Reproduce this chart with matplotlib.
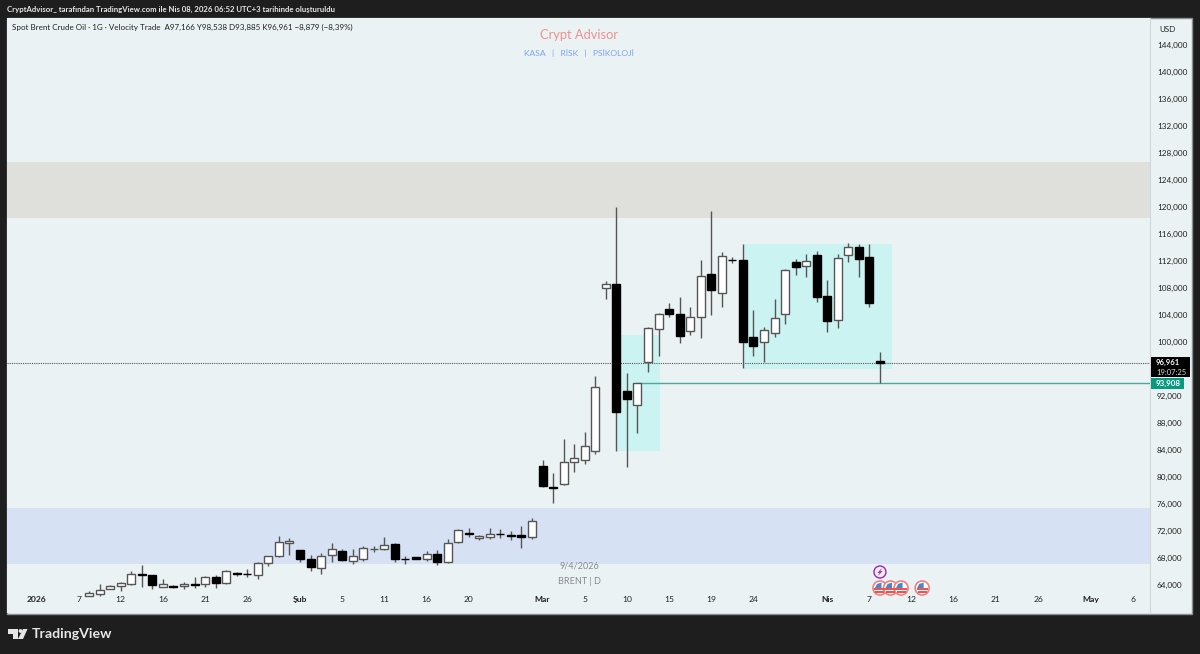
import numpy as np
import matplotlib
matplotlib.use('Agg')
import matplotlib.pyplot as plt
from matplotlib.patches import Rectangle, Circle, Polygon
from matplotlib.transforms import Affine2D

plt.rcParams['font.family'] = ['Lato', 'DejaVu Sans']

# prices in thousands USD, bar index 1 is not visible, bar 0 shows only a wick
opens = [np.nan, np.nan, 62.37, 62.72, 63.41, 63.90, 64.20, 65.58, 65.43, 63.75, 63.80, 63.80, 64.20, 64.10, 65.14, 64.25,
         65.83, 65.63, 65.53, 67.21, 68.25, 70.17, 69.14, 67.85, 66.57, 68.39, 69.04, 67.56, 67.90, 69.33, 69.33, 70.02,
         67.88, 68.10, 67.90, 68.64, 67.36, 70.42, 71.75, 70.91, 71.16, 71.53, 71.41, 71.36, 71.06, 81.68, 78.57, 79.01,
         82.22, 82.52, 83.90, 107.95, 108.59, 92.69, 90.62, 97.08, 101.97, 104.94, 104.15, 101.68, 103.75, 110.02, 107.21,
         112.17, 112.20, 100.74, 100.05, 101.28, 104.10, 111.90, 111.21, 112.84, 106.76, 103.26, 112.84, 114.02, 112.64, 97.166]
highs = [62.55, np.nan, 63.11, 64.10, 63.95, 64.44, 66.07, 66.96, 65.50, 64.89, 63.95, 64.40, 65.14, 65.30, 65.43, 66.22,
         65.98, 66.37, 67.46, 68.30, 71.31, 70.91, 69.20, 68.39, 68.79, 70.27, 69.33, 69.28, 69.83, 69.83, 71.06, 70.22,
         68.30, 68.15, 68.99, 69.18, 70.81, 72.25, 72.44, 71.40, 72.44, 72.25, 72.00, 72.74, 73.88, 82.52, 80.64, 85.58,
         84.84, 86.62, 94.91, 108.99, 119.95, 95.36, 93.97, 102.17, 104.25, 105.73, 106.67, 105.23, 112.10, 119.40, 113.33,
         112.64, 114.52, 104.74, 102.17, 106.32, 110.76, 112.24, 113.03, 113.48, 109.18, 113.03, 114.62, 114.52, 114.52, 98.538]
lows = [62.45, np.nan, 62.37, 62.32, 63.35, 63.06, 64.05, 63.70, 63.41, 63.65, 63.60, 63.46, 63.56, 63.70, 63.60, 64.20,
        65.38, 65.23, 64.84, 66.81, 68.20, 68.44, 67.36, 66.02, 65.68, 67.46, 67.60, 67.06, 67.56, 68.84, 69.23, 67.36,
        67.11, 67.85, 67.60, 67.01, 67.30, 70.27, 71.06, 70.67, 70.77, 70.91, 70.67, 69.48, 70.77, 78.52, 76.20, 78.81,
        80.69, 81.93, 83.46, 106.42, 83.90, 81.43, 86.57, 95.55, 97.97, 103.75, 99.80, 101.09, 100.59, 104.00, 105.23,
        111.65, 96.20, 97.92, 96.99, 100.69, 102.62, 109.92, 109.63, 105.92, 101.53, 102.02, 111.90, 109.63, 105.13, 93.885]
closes = [np.nan, np.nan, 62.77, 63.21, 63.90, 64.35, 65.58, 65.55, 63.95, 64.10, 63.65, 64.10, 64.05, 65.23, 64.30, 66.02,
          65.68, 65.58, 67.31, 68.25, 70.32, 70.47, 67.90, 66.72, 68.25, 69.33, 67.65, 68.25, 69.43, 69.35, 69.93, 67.80,
          67.85, 67.90, 68.64, 67.46, 70.22, 72.10, 71.55, 71.31, 71.51, 71.50, 71.21, 71.16, 73.53, 78.62, 78.37, 82.27,
          82.81, 84.64, 93.28, 108.59, 89.68, 91.60, 93.88, 102.02, 104.15, 104.10, 100.89, 103.65, 109.73, 107.70, 112.74,
          112.15, 100.05, 99.46, 101.73, 103.60, 110.62, 111.16, 112.05, 106.71, 103.06, 112.39, 114.12, 112.24, 105.78, 96.961]

# 96,000 sits under the last price label so it is left out
price_ticks = [64, 68, 72, 76, 80, 84, 88, 92, 100, 104, 108, 112, 116, 120, 124, 128, 132, 136, 140, 144]
time_pos = [-3, 1, 5, 9, 13, 17, 22, 26, 30, 34, 38, 45, 49, 53, 57, 61, 65, 72, 76, 80, 84, 88, 92, 97, 101]
time_labels = ['2026', '7', '12', '16', '21', '26', 'Şub', '5', '11', '16', '20', 'Mar', '5', '10', '15', '19', '24',
               'Nis', '7', '12', '16', '21', '26', 'May', '6']
bold_labels = ['2026', 'Şub', 'Mar', 'Nis', 'May']

# zones: first bar, last bar, low, high
gray_zone = (118.37, 126.67)
blue_zone = (67.11, 75.45)
box1 = (52, 56, 83.90, 100.98)
box2 = (64, 78, 96.05, 114.52)
last_price = 96.961
level_price = 93.908
level_start = 54
event_bars = [77, 78, 79, 81]

fig = plt.figure(figsize=(12, 6.54), dpi=100, facecolor='#1e1e1e')
px = Affine2D().scale(1, -1).translate(0, 654)

fig.add_artist(Rectangle((7, 18), 1185, 596, transform=px, fc='#ebf2f4', ec='#8a8f92', lw=1, zorder=-1))

ax = fig.add_axes([7/1200, 1-613/654, 1143/1200, 595/654], facecolor='#ebf2f4')
ax.set_xlim((7-68)/10.545, (1150-68)/10.545)
ax.set_ylim(64-28*0.14815, 64+567*0.14815)

ax.axhspan(gray_zone[0], gray_zone[1], color='#dfdfdb', lw=0, zorder=1)
ax.axhspan(blue_zone[0], blue_zone[1], color='#d6e1f4', lw=0, zorder=1)
for b in (box1, box2):
    ax.add_patch(Rectangle((b[0]+0.1, b[2]), b[1]-b[0], b[3]-b[2], fc='#cbf3f1', ec='none', zorder=1))

ax.axhline(last_price, color='#555555', lw=0.8, ls=(0, (1, 1)), zorder=2)
ax.plot([level_start, 200], [level_price, level_price], color='#4fa898', lw=1, zorder=2)

x = np.arange(len(opens))
o = np.array(opens)
h = np.array(highs)
l = np.array(lows)
c = np.array(closes)
up = c >= o
ax.vlines(x, l, h, color='#555555', lw=1, zorder=3)
ax.bar(x[up], (c-o)[up], bottom=o[up], width=0.76, color='white', edgecolor='#555555', lw=1, zorder=4)
ax.bar(x[~up], (c-o)[~up], bottom=o[~up], width=0.76, color='black', edgecolor='black', lw=1, zorder=4)

for s in ax.spines.values():
    s.set_visible(False)
ax.spines['right'].set_visible(True)
ax.spines['right'].set_color('#d2d7da')
ax.spines['right'].set_linewidth(0.8)

ax.yaxis.tick_right()
ax.set_yticks(price_ticks)
ax.set_yticklabels([f'{v},000' for v in price_ticks])
ax.tick_params(axis='y', length=0, pad=5, labelsize=5.9, labelcolor='#222222')
ax.set_xticks(time_pos)
ax.set_xticklabels(time_labels)
ax.tick_params(axis='x', length=0, pad=-12, labelsize=6.1, labelcolor='#222222')
for t in ax.get_xticklabels():
    if t.get_text() in bold_labels:
        t.set_fontweight('bold')

# texts in pixel position
def put(xp, yp, s, **kw):
    kw.setdefault('va', 'center')
    fig.text(xp/1200, 1-yp/654, s, **kw)

put(7, 9, 'CryptAdvisor_ tarafından TradingView.com ile Nis 08, 2026 06:52 UTC+3 tarihinde oluşturuldu',
    color='#e8e8e8', fontsize=5.55, fontweight='bold')
put(12, 27, 'Spot Brent Crude Oil · 1G · Velocity Trade  A97,166 Y98,538 D93,885 K96,961 −8,879 (−8,39%)',
    color='#222222', fontsize=5.72)
put(579, 35, 'Crypt Advisor', color='#f09090', fontsize=9.3, ha='center')
put(579, 53, 'KASA   |   RİSK   |   PSİKOLOJİ', color='#7fa3ee', fontsize=6.1, ha='center')
put(579, 566, '9/4/2026', color='#868b8f', fontsize=6.5, ha='center')
put(579, 581, 'BRENT | D', color='#868b8f', fontsize=6.5, ha='center')
put(1159, 29, 'USD', color='#222222', fontsize=5.8)

# price labels
fig.add_artist(Rectangle((1151, 357), 39, 20, transform=px, fc='black', ec='none', zorder=5))
put(1156, 362, f'{last_price*1000:,.0f}', color='white', fontsize=5.5, zorder=6, fontweight='bold')
put(1156, 372.5, '19:07:25', color='#d8d8d8', fontsize=5.5, zorder=6)
fig.add_artist(Rectangle((1151, 378), 33, 11, transform=px, fc='#089981', ec='none', zorder=5))
put(1156, 383.5, f'{level_price*1000:,.0f}', color='white', fontsize=5.8, zorder=6, fontweight='bold')

# event icons
def bar_px(i):
    return 68 + i*10.545

ex = bar_px(event_bars[0])
fig.add_artist(Circle((ex, 572), 6, transform=px, fc='#f3edf7', ec='#9c27b0', lw=1, zorder=5))
fig.add_artist(Polygon([(ex+2, 568), (ex-2.5, 572.8), (ex-0.3, 572.8), (ex-2, 576), (ex+2.5, 571.2), (ex+0.3, 571.2)],
                       transform=px, fc='#9c27b0', ec='none', zorder=6))
for b in event_bars:
    cx = bar_px(b)
    fig.add_artist(Circle((cx, 588), 7, transform=px, fc='white', ec='#f08080', lw=1.2, zorder=5))
    fig.add_artist(Rectangle((cx-5.5, 588), 11, 1.5, transform=px, fc='#ef5350', ec='none', zorder=6))
    fig.add_artist(Rectangle((cx-4.5, 591), 9, 1.5, transform=px, fc='#ef5350', ec='none', zorder=6))
    fig.add_artist(Polygon([(cx-5, 588), (cx-3, 584), (cx+1.5, 582.5), (cx+1.5, 588)], transform=px, fc='#4a86c8', ec='none', zorder=7))

# logo
white = '#e6e6e6'
fig.add_artist(Polygon([(8, 629), (18, 629), (18, 639), (13, 639), (13, 634), (8, 634)], transform=px, fc=white, ec='none'))
fig.add_artist(Circle((20.5, 631), 1.9, transform=px, fc=white, ec='none'))
fig.add_artist(Polygon([(23, 629), (27.5, 629), (23, 639), (18, 639)], transform=px, fc=white, ec='none'))
put(32, 634, 'TradingView', color=white, fontsize=10.2, fontweight='bold')

fig.savefig('out.png', dpi=100, facecolor=fig.get_facecolor())
